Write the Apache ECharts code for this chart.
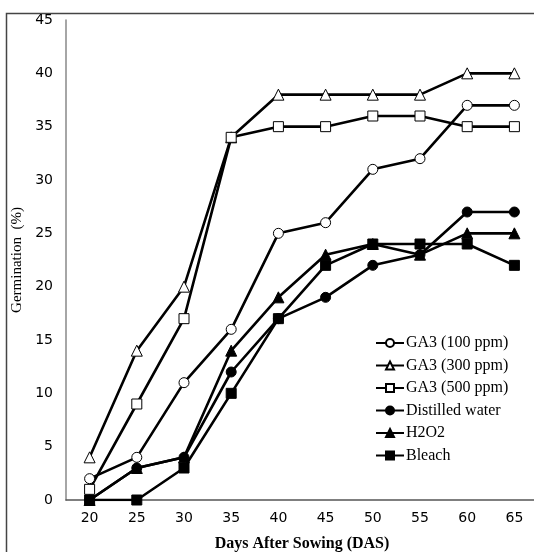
<!DOCTYPE html>
<html>
<head>
<meta charset="utf-8">
<script src="https://cdn.jsdelivr.net/npm/echarts@6/dist/echarts.min.js"></script>
<style>
  html, body { margin: 0; padding: 0; background: #fff; }
  #chart { width: 534px; height: 552px; }
</style>
</head>
<body>
<div id="chart"></div>
<script>
// days after sowing
const days = ["20", "25", "30", "35", "40", "45", "50", "55", "60", "65"];

// germination (%)
const ga3_100 = [2, 4, 11, 16, 25, 26, 31, 32, 37, 37];
const ga3_300 = [4, 14, 20, 34, 38, 38, 38, 38, 40, 40];
const ga3_500 = [1, 9, 17, 34, 35, 35, 36, 36, 35, 35];
const distilled = [0, 3, 4, 12, 17, 19, 22, 23, 27, 27];
const h2o2 = [0, 3, 4, 14, 19, 23, 24, 23, 25, 25];
const bleach = [0, 0, 3, 10, 17, 22, 24, 24, 24, 22];

const chart = echarts.init(document.getElementById("chart"));

// line series helper, open markers get white fill
function mkSeries(name, data, symbol, open) {
  return {
    name: name,
    type: "line",
    data: data,
    symbol: symbol,
    symbolSize: symbol === "triangle" ? 11 : 10,
    showSymbol: true,
    lineStyle: { color: "#000", width: 2.6 },
    itemStyle: {
      color: open ? "#fff" : "#000",
      borderColor: "#000",
      borderWidth: 1,
    },
    emphasis: { disabled: true },
    z: open ? 3 : 2,
  };
}

const option = {
  animation: false,
  graphic: [
    {
      type: "rect",
      shape: { x: 6.5, y: 13.5, width: 560, height: 580 },
      style: { fill: "none", stroke: "#444", lineWidth: 1.5 },
      silent: true,
    },
  ],
  grid: {
    left: 66,
    right: -4,
    top: 20,
    bottom: 52,
    containLabel: false,
    outerBoundsMode: "none",
  },
  legend: {
    orient: "vertical",
    left: 370,
    top: 330,
    itemWidth: 28,
    itemHeight: 10,
    itemGap: 6.5,
    textStyle: {
      fontFamily: "Liberation Serif",
      fontSize: 16,
      color: "#000",
      padding: [0, 0, 0, -3],
    },
    data: [
      "GA3 (100 ppm)",
      "GA3 (300 ppm)",
      "GA3 (500 ppm)",
      "Distilled water",
      "H2O2",
      "Bleach",
    ],
  },
  xAxis: {
    type: "category",
    data: days,
    boundaryGap: true,
    name: "Days After Sowing (DAS)",
    nameLocation: "middle",
    nameGap: 36,
    nameTextStyle: {
      fontFamily: "Liberation Serif",
      fontWeight: "bold",
      fontSize: 16,
      color: "#000",
    },
    axisLine: { lineStyle: { color: "#555", width: 1.5 } },
    axisTick: { show: false },
    axisLabel: {
      fontFamily: "DejaVu Sans",
      fontSize: 14,
      color: "#000",
      margin: 11,
    },
  },
  yAxis: {
    type: "value",
    min: 0,
    max: 45,
    interval: 5,
    name: "Germination  (%)",
    nameLocation: "middle",
    nameGap: 40,
    nameTextStyle: {
      fontFamily: "Liberation Serif",
      fontSize: 15,
      color: "#000",
    },
    axisLine: { show: true, lineStyle: { color: "#888", width: 1.5 } },
    axisTick: { show: false },
    splitLine: { show: false },
    axisLabel: {
      fontFamily: "DejaVu Sans",
      fontSize: 14,
      color: "#000",
      margin: 13,
    },
  },
  series: [
    mkSeries("GA3 (100 ppm)", ga3_100, "circle", true),
    mkSeries("GA3 (300 ppm)", ga3_300, "triangle", true),
    mkSeries("GA3 (500 ppm)", ga3_500, "rect", true),
    mkSeries("Distilled water", distilled, "circle", false),
    mkSeries("H2O2", h2o2, "triangle", false),
    mkSeries("Bleach", bleach, "rect", false),
  ],
};

chart.setOption(option);
</script>
</body>
</html>
